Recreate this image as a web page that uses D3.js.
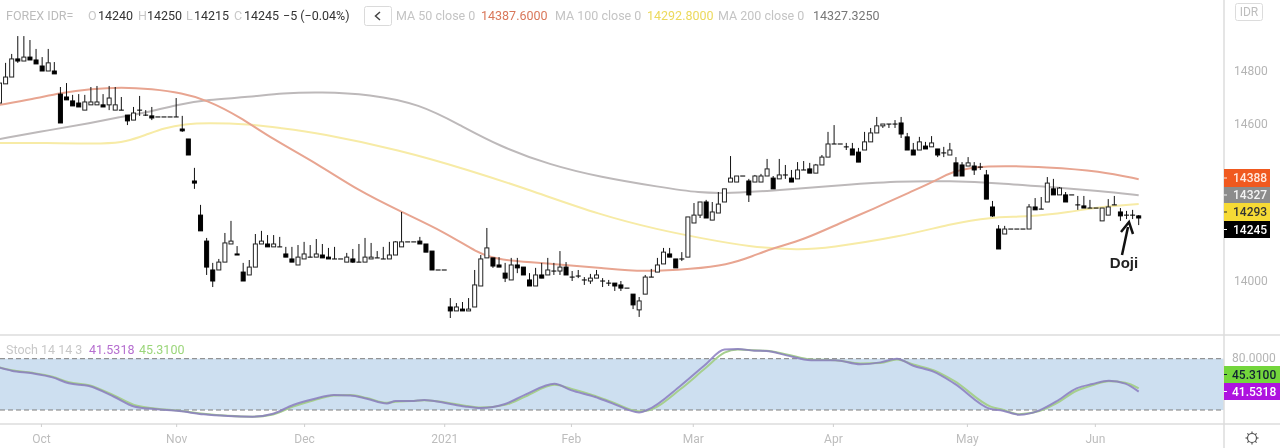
<!DOCTYPE html>
<html>
<head>
<meta charset="utf-8">
<script src="https://cdn.jsdelivr.net/npm/d3@7"></script>
<style>
html, body { margin: 0; padding: 0; background: #fff; overflow: hidden; }
svg { display: block; font-family: Roboto, sans-serif; filter: blur(0.3px); }
.domain { display: none; }
</style>
</head>
<body>
<svg id="chart" width="1280" height="448"></svg>
<script>
// candles, one per trading day
const opens = [14678,14751,14777,14846,14838,14853,14842,14819,14800,14800,
14712,14701,14686,14678,14651,14671,14671,14671,14671,14651,
14651,14632,14613,14651,14632,14629,14625,14625,14625,14625,
14579,14541,14381,14251,14152,14042,14042,14072,14141,14103,
14034,14023,14053,14141,14141,14130,14130,14103,14084,14061,
14084,14091,14091,14099,14091,14084,14084,14072,14084,14072,
14072,14084,14088,14084,14084,14099,14130,14149,14149,14152,
14141,14114,14042,14042,13901,13886,13893,13886,13901,13981,
14088,14088,14061,14030,14004,14061,14053,14004,13981,14023,
14023,14038,14038,14053,14015,14019,14004,14000,14011,14000,
13992,13992,13985,13973,13950,13890,13950,14015,14034,14065,
14103,14084,14084,14091,14221,14251,14301,14232,14259,14301,
14377,14377,14400,14381,14377,14377,14400,14392,14389,14404,
14392,14389,14423,14427,14411,14442,14472,14522,14522,14511,
14503,14491,14499,14530,14564,14591,14598,14598,14602,14549,
14499,14499,14514,14511,14503,14488,14480,14450,14442,14438,
14438,14434,14404,14282,14198,14179,14198,14198,14198,14198,
14282,14274,14301,14351,14328,14328,14328,14290,14286,14278,
14278,14229,14251,14290,14263,14251,14251,14248];
const closes = [14754,14777,14846,14838,14853,14842,14827,14800,14831,14789,
14602,14690,14667,14663,14682,14682,14682,14663,14697,14671,
14651,14610,14640,14651,14632,14621,14625,14625,14625,14625,
14572,14480,14373,14191,14053,14000,14072,14145,14152,14099,
14000,14053,14141,14152,14130,14141,14130,14091,14072,14091,
14103,14091,14103,14088,14084,14084,14084,14091,14072,14072,
14091,14091,14088,14084,14099,14149,14149,14149,14149,14141,
14110,14042,14042,14042,13886,13901,13886,13893,13985,14084,
14126,14057,14053,14011,14061,14050,14023,13981,14023,14011,
14042,14038,14053,14023,14015,14019,14004,14011,14023,14000,
13992,13981,13973,13973,13909,13924,14015,14015,14061,14110,
14091,14050,14084,14244,14251,14301,14240,14263,14293,14351,
14392,14400,14400,14328,14400,14400,14427,14351,14404,14404,
14377,14423,14423,14411,14442,14472,14522,14522,14522,14511,
14480,14453,14530,14564,14591,14598,14598,14598,14560,14499,
14480,14530,14503,14526,14480,14488,14499,14400,14400,14450,
14423,14434,14312,14248,14122,14198,14198,14198,14198,14282,
14271,14274,14373,14328,14354,14301,14328,14290,14278,14278,
14278,14278,14282,14290,14248,14251,14251,14240];
const highs = [14754,14831,14865,14933,14933,14918,14884,14853,14884,14834,
14739,14754,14709,14712,14709,14739,14743,14712,14743,14739,
14701,14632,14663,14705,14651,14663,14625,14625,14625,14697,
14629,14541,14431,14290,14164,14069,14084,14183,14229,14133,
14069,14080,14179,14191,14175,14175,14168,14130,14130,14137,
14149,14137,14160,14141,14126,14130,14084,14107,14122,14141,
14164,14145,14114,14130,14149,14152,14263,14149,14149,14168,
14141,14114,14042,14042,13935,13916,13920,13935,14042,14099,
14202,14088,14091,14069,14088,14088,14053,14030,14050,14069,
14088,14069,14114,14072,14038,14042,14015,14027,14042,14011,
14004,13992,14000,13973,13950,13939,14023,14046,14088,14126,
14126,14084,14110,14244,14297,14301,14309,14301,14339,14351,
14476,14400,14400,14389,14404,14408,14465,14400,14465,14442,
14423,14453,14457,14450,14446,14480,14568,14594,14522,14526,
14526,14507,14568,14583,14625,14598,14598,14613,14625,14564,
14526,14549,14530,14552,14503,14511,14526,14472,14453,14472,
14453,14450,14423,14305,14213,14210,14198,14198,14198,14293,
14316,14320,14396,14389,14358,14339,14328,14324,14324,14309,
14278,14278,14312,14324,14278,14267,14271,14251];
const lows = [14678,14751,14777,14831,14838,14842,14827,14800,14800,14789,
14602,14690,14667,14663,14651,14671,14671,14663,14651,14651,
14651,14594,14613,14629,14629,14613,14625,14625,14625,14625,
14568,14480,14351,14191,14023,13977,14042,14072,14141,14099,
14000,14023,14053,14141,14130,14130,14130,14091,14072,14061,
14084,14091,14091,14088,14084,14084,14084,14072,14069,14072,
14072,14084,14088,14084,14084,14099,14130,14149,14149,14141,
14110,14042,14042,14042,13859,13886,13886,13886,13901,13981,
14088,14050,14053,13996,14004,14030,14023,13981,13981,14011,
14023,14023,14023,14023,14000,14011,13985,13989,14011,13977,
13981,13962,13962,13973,13893,13863,13950,14015,14034,14065,
14091,14050,14076,14091,14221,14240,14240,14232,14259,14301,
14377,14377,14400,14301,14377,14377,14400,14351,14389,14389,
14377,14389,14423,14411,14411,14442,14472,14522,14522,14499,
14480,14453,14499,14530,14564,14583,14583,14583,14545,14499,
14480,14499,14503,14511,14472,14472,14480,14400,14400,14438,
14404,14423,14312,14244,14122,14179,14198,14198,14198,14198,
14271,14274,14301,14328,14328,14301,14328,14271,14278,14278,
14278,14229,14251,14290,14229,14236,14236,14213];

// moving averages, read at [candle index, price]
const ma50 = [[0,14671],[5.5,14693],[10,14716],[15,14732],[20,14739],[25,14732],[30,14716],[34,14690],[39.5,14625],[44.5,14545],[52.5,14442],[58.7,14347],[66,14263],[73,14187],[78.5,14107],[81.6,14080],[91,14065],[99,14050],[105.6,14034],[113.8,14046],[119.4,14061],[123.7,14095],[127,14126],[131.9,14156],[138,14221],[143.4,14274],[149.5,14339],[154,14385],[156,14415],[161.4,14442],[172.4,14434],[180.6,14419],[187,14388]];
const ma100 = [[0,14526],[7,14526],[18,14522],[20.6,14530],[24,14556],[27,14583],[30.5,14598],[34,14602],[41,14598],[46,14583],[52.5,14564],[65.7,14499],[77,14423],[87,14347],[98.6,14251],[108.4,14194],[115,14164],[123,14130],[131.4,14118],[136,14126],[147.8,14168],[156,14217],[162.6,14244],[169,14244],[175.7,14263],[180.6,14282],[187,14293]];
const ma200 = [[0,14541],[8.2,14575],[15,14602],[19.8,14625],[24.7,14644],[29.6,14674],[34,14690],[41,14701],[46.5,14716],[52.6,14720],[60.8,14712],[69,14674],[75.6,14594],[82,14514],[90.4,14442],[98.6,14396],[108.4,14358],[115,14335],[119.9,14335],[126.5,14343],[136.3,14362],[147.8,14381],[156,14381],[164.2,14373],[172.4,14358],[180.6,14343],[187,14327]];

// stochastic, shared index positions
const stochIdx = [0,2,5.4,8.7,11.4,14.7,18.8,22.1,25.5,29.5,33.5,37.5,41.5,44.9,48.2,51.6,54.9,57.6,60.3,63.6,65,67.6,69.7,73,76.4,79,83,86.4,91.1,93.8,97.8,100.5,105,106.4,111.8,115.8,119,121.2,123.9,125.9,129.2,133.2,137.2,141.3,144.6,147.3,150,153.3,156.7,162.7,164.7,167.4,170.7,173.4,176.8,179.4,182.1,184.8,187];
const stochK = [69.5,66,62.9,58.2,51.2,48,35.5,24.2,21.1,18.8,14.9,12.9,12.2,15.7,25.8,32.8,37.5,37.1,33.2,27.7,30.5,30.5,31.7,28.5,24.2,22.3,27,38.3,50.8,43.3,35.2,28.1,17.2,20.3,48.4,72.6,90.9,91.3,89.4,89,83.9,78.1,78.1,73.4,75.7,80,71.8,64.8,51.2,21.1,19.2,14.5,19.6,29.7,45.3,50.4,54.3,50.8,41.5];
const stochD = [69.8,66.5,63.5,59,52.5,49,37,26,21.8,19.2,15.6,13.2,12.2,14.8,24,31.5,37,37.5,34,28.5,29.5,30.4,31.3,29.2,25,22.8,26,36,49.5,45,36.5,29.5,18.5,19.5,44.5,68.5,87,90.8,89.8,89.2,85,79,78.3,74.5,75,79,73.2,66.5,54,24,20.2,15,18.8,27.5,42.5,49,53.5,52,45.3];

const priceTicks = [14000, 14600, 14800];
const dateTickIdx = [6.8, 29, 50, 73, 93.8, 113.8, 136.8, 158.8, 179.8];
const dateTickLabels = ['Oct', 'Nov', 'Dec', '2021', 'Feb', 'Mar', 'Apr', 'May', 'Jun'];

const svg = d3.select('#chart');
const plotRight = 1224;

const xscale = d3.scaleLinear().domain([0, 187]).range([-0.5, 1138.7]);
const yscale = d3.scaleLinear().domain([14000, 14800]).range([281, 71]);
const yscaleStoch = d3.scaleLinear().domain([20, 80]).range([410, 358.7]);

svg.append('defs').append('clipPath').attr('id', 'plot')
    .append('rect').attr('width', plotRight).attr('height', 334);

// stochastic band behind everything in the lower pane
svg.append('rect')
    .attr('x', 0).attr('width', plotRight)
    .attr('y', yscaleStoch(80)).attr('height', yscaleStoch(20) - yscaleStoch(80))
    .attr('fill', '#cddff0');

[80, 20].forEach((v) => {
    svg.append('line')
        .attr('x1', 0).attr('x2', plotRight)
        .attr('y1', yscaleStoch(v)).attr('y2', yscaleStoch(v))
        .attr('stroke', '#7d7d7d').attr('stroke-dasharray', '5 3');
});

// pane borders
[[0, 335, 1280, 335], [0, 424, 1280, 424], [plotRight, 0, plotRight, 448]].forEach((l) => {
    svg.append('line').attr('x1', l[0]).attr('y1', l[1]).attr('x2', l[2]).attr('y2', l[3])
        .attr('stroke', '#dcdcdc').attr('stroke-width', 1.5);
});

const maLine = d3.line().x(d => xscale(d[0])).y(d => yscale(d[1])).curve(d3.curveBasis);
const main = svg.append('g').attr('clip-path', 'url(#plot)');

main.append('path').attr('d', maLine(ma100)).attr('fill', 'none').attr('stroke', '#f7eba6').attr('stroke-width', 2);
main.append('path').attr('d', maLine(ma200)).attr('fill', 'none').attr('stroke', '#bdb9ba').attr('stroke-width', 2);
main.append('path').attr('d', maLine(ma50)).attr('fill', 'none').attr('stroke', '#e8a591').attr('stroke-width', 2);

// candles
const candles = main.append('g').selectAll('g')
    .data(opens.map((o, i) => ({ i: i, o: o, h: highs[i], l: lows[i], c: closes[i] })))
    .join('g');

candles.append('line')
    .attr('x1', d => xscale(d.i)).attr('x2', d => xscale(d.i))
    .attr('y1', d => yscale(d.h)).attr('y2', d => yscale(d.l))
    .attr('stroke', '#111');

// a rect of zero height draws nothing, so keep flat candles just above zero
candles.append('rect')
    .attr('x', d => xscale(d.i) - 2)
    .attr('width', 4)
    .attr('y', d => yscale(Math.max(d.o, d.c)))
    .attr('height', d => Math.max(Math.abs(yscale(d.o) - yscale(d.c)), 0.05))
    .attr('fill', d => d.c < d.o ? '#000' : '#fff')
    .attr('stroke', d => (d.c <= d.o) ? '#000' : '#222')
    .attr('stroke-width', 1);

// stochastic lines
const stochLine = (vals) => d3.line()
    .x((d, i) => xscale(stochIdx[i]))
    .y(d => yscaleStoch(d))
    .curve(d3.curveMonotoneX)(vals);

svg.append('path').attr('d', stochLine(stochD)).attr('fill', 'none').attr('stroke', '#a6cf8e').attr('stroke-width', 2);
svg.append('path').attr('d', stochLine(stochK)).attr('fill', 'none').attr('stroke', '#8a7cc0').attr('stroke-opacity', 0.85).attr('stroke-width', 2);

// axes
const yAxis = d3.axisRight(yscale).tickValues(priceTicks).tickSize(0).tickPadding(10).tickFormat(d3.format('d'));
svg.append('g').attr('transform', `translate(${plotRight},0)`).call(yAxis)
    .selectAll('text').attr('fill', '#b4b4b4').style('font-size', '12px').style('font-family', 'Roboto, sans-serif');

const xAxis = d3.axisBottom(xscale).tickValues(dateTickIdx).tickSize(3).tickPadding(7)
    .tickFormat((d, i) => dateTickLabels[i]);
const xg = svg.append('g').attr('transform', 'translate(0,424)').call(xAxis);
xg.selectAll('line').attr('stroke', '#cfcfcf');
xg.selectAll('text').attr('fill', '#bdbdbd').style('font-size', '12px').style('font-family', 'Roboto, sans-serif');

svg.append('text').attr('x', 1232).attr('y', 362).attr('fill', '#b4b4b4').style('font-size', '12px').text('80.0000');

// price badges on the right axis
const badges = [
    { t: '14388', y: 169, h: 18, bg: '#f0591f', fg: '#ffe9df' },
    { t: '14327', y: 187, h: 16, bg: '#8c8c8c', fg: '#f4f4f4' },
    { t: '14293', y: 203, h: 18, bg: '#f6da35', fg: '#333' },
    { t: '14245', y: 221, h: 17, bg: '#000', fg: '#fff' }
];
badges.forEach((b) => {
    svg.append('rect').attr('x', plotRight).attr('y', b.y).attr('width', 46).attr('height', b.h).attr('fill', b.bg);
    svg.append('line').attr('x1', plotRight).attr('x2', plotRight + 3)
        .attr('y1', b.y + b.h / 2).attr('y2', b.y + b.h / 2).attr('stroke', b.fg);
    svg.append('text').attr('x', 1233).attr('y', b.y + b.h / 2 + 4).attr('fill', b.fg)
        .style('font-size', '12px').style('font-weight', 500).text(b.t);
});

const stochBadges = [
    { t: '45.3100', y: 366, bg: '#74d63c', fg: '#123' },
    { t: '41.5318', y: 383, bg: '#ae12df', fg: '#fff' }
];
stochBadges.forEach((b) => {
    svg.append('rect').attr('x', plotRight).attr('y', b.y).attr('width', 56).attr('height', 17).attr('fill', b.bg);
    svg.append('line').attr('x1', plotRight).attr('x2', plotRight + 3)
        .attr('y1', b.y + 8.5).attr('y2', b.y + 8.5).attr('stroke', b.fg);
    svg.append('text').attr('x', 1232).attr('y', b.y + 12.5).attr('fill', b.fg)
        .style('font-size', '12px').style('font-weight', 500).text(b.t);
});

// header legend
const legend = [
    ['FOREX IDR=', 6, '#bcbcbc'], ['O', 88, '#c8c8c8'], ['14240', 98, '#333'],
    ['H', 138, '#c8c8c8'], ['14250', 147, '#333'], ['L', 186, '#c8c8c8'], ['14215', 194, '#333'],
    ['C', 234, '#c8c8c8'], ['14245', 244, '#333'], ['−5 (−0.04%)', 283, '#333'],
    ['MA 50 close 0', 396, '#c4c4c4'], ['14387.6000', 481, '#d9775a'],
    ['MA 100 close 0', 555, '#c4c4c4'], ['14292.8000', 647, '#ecd95c'],
    ['MA 200 close 0', 718, '#c4c4c4'], ['14327.3250', 813, '#777']
];
legend.forEach((l) => {
    svg.append('text').attr('x', l[1]).attr('y', 20).attr('fill', l[2]).style('font-size', '12.5px').text(l[0]);
});

svg.append('rect').attr('x', 364.5).attr('y', 6.5).attr('width', 27).attr('height', 19).attr('rx', 2)
    .attr('fill', '#fff').attr('stroke', '#dadada');
svg.append('path').attr('d', 'M380,12 L375.5,16 L380,20').attr('fill', 'none').attr('stroke', '#444').attr('stroke-width', 1.5);

// top right scale badge
svg.append('rect').attr('x', 1235.5).attr('y', 3.5).attr('width', 27).attr('height', 17).attr('rx', 2)
    .attr('fill', '#fff').attr('stroke', '#dcdcdc');
svg.append('text').attr('x', 1249).attr('y', 16).attr('text-anchor', 'middle').attr('fill', '#bdbdbd')
    .style('font-size', '12px').text('IDR');

// stochastic legend
[['Stoch 14 14 3', 6, '#c8c8c8'], ['41.5318', 89, '#b66fd0'], ['45.3100', 139, '#9bd67a']].forEach((l) => {
    svg.append('text').attr('x', l[1]).attr('y', 354).attr('fill', l[2]).style('font-size', '12.5px').text(l[0]);
});

// doji annotation
svg.append('line').attr('x1', 1122).attr('y1', 255).attr('x2', 1128).attr('y2', 227)
    .attr('stroke', '#111').attr('stroke-width', 2.5);
svg.append('path').attr('d', 'M1121,232 L1129,222 L1133,234').attr('fill', 'none')
    .attr('stroke', '#111').attr('stroke-width', 2.5);
svg.append('text').attr('x', 1124).attr('y', 268).attr('text-anchor', 'middle').attr('fill', '#222')
    .style('font-family', '"Liberation Sans", Arial, sans-serif').style('font-size', '15px').style('font-weight', 700).text('Doji');

// settings gear
const gear = svg.append('g').attr('transform', 'translate(1252,438)');
gear.append('circle').attr('r', 4.5).attr('fill', 'none').attr('stroke', '#555').attr('stroke-width', 1.2);
gear.selectAll('line').data(d3.range(8)).join('line')
    .attr('x1', d => 4.5 * Math.cos(d * Math.PI / 4)).attr('y1', d => 4.5 * Math.sin(d * Math.PI / 4))
    .attr('x2', d => 6.5 * Math.cos(d * Math.PI / 4)).attr('y2', d => 6.5 * Math.sin(d * Math.PI / 4))
    .attr('stroke', '#555').attr('stroke-width', 1.2);
</script>
</body>
</html>
